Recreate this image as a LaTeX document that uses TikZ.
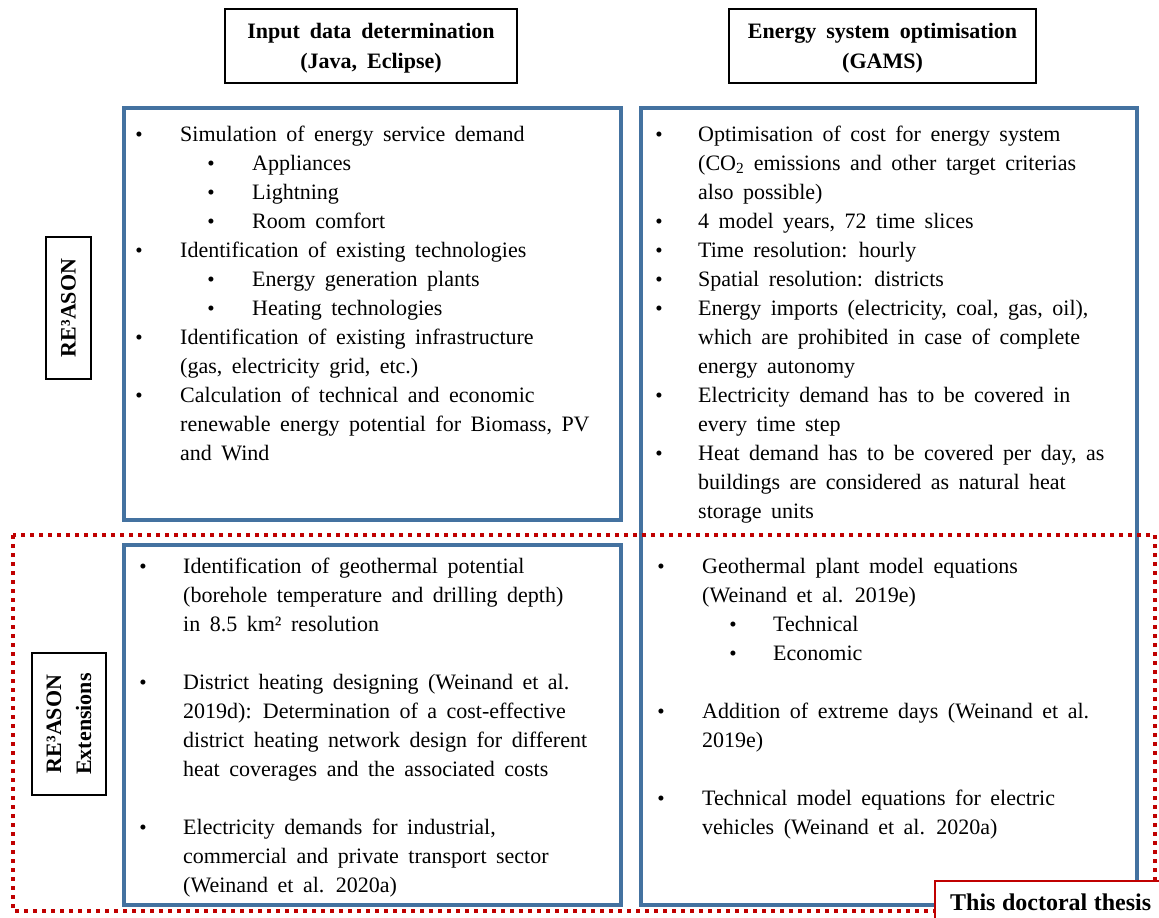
\documentclass[tikz,border=0pt]{standalone}
\usepackage{fontspec}
\setmainfont{Liberation Serif}
\definecolor{frameblue}{RGB}{68,114,160}
\definecolor{thesisred}{RGB}{192,0,0}
\begin{document}
\begin{tikzpicture}[x=1pt,y=-1pt,
  body/.style={anchor=base west,inner sep=0pt,
    font={\fontsize{22}{29}\selectfont\spaceskip=9.5pt\relax}},
  dotmark/.style={anchor=base,inner sep=0pt,font=\fontsize{21}{29}\selectfont},
  hdr/.style={draw=black,line width=2.6pt,align=center,inner sep=0pt,
    font={\fontsize{22}{30}\selectfont\bfseries\spaceskip=10pt\relax}},
  sidelabel/.style={draw=black,line width=2.6pt,align=center,inner sep=0pt,rotate=90,
    font=\fontsize{22}{30}\selectfont\bfseries},
  panel/.style={draw=frameblue,line width=4pt},
  extframe/.style={draw=thesisred,line width=4pt,dash pattern=on 4pt off 5pt}]

\useasboundingbox (0,0) rectangle (1159,918);
\clip (0,0) rectangle (1159,918);

% column headers
\node[hdr,minimum width=292pt,minimum height=74pt] (hin) at (371,46)
  {\rule{0pt}{20pt}Input data determination\\(Java, Eclipse)};
\node[hdr,minimum width=307pt,minimum height=74pt] (hopt) at (882.5,46)
  {\rule{0pt}{20pt}Energy system optimisation\\(GAMS)};

% blue panels
\draw[panel] (124,108) rectangle (621,520);
\draw[panel] (124,545) rectangle (621,905);
\draw[panel] (641,108) rectangle (1137,905);

% dotted frame around the extensions
\draw[extframe] (13,535) rectangle (1155,911);

% row labels
\node[sidelabel,minimum width=142pt,minimum height=45pt] (reason) at (68.5,308)
  {RE³ASON};
\node[sidelabel,minimum width=142pt,minimum height=74pt] (ext) at (69,724)
  {RE³ASON\\Extensions};

% thesis tag
\node[draw=thesisred,fill=white,line width=1.6pt,anchor=north west,
  minimum width=260pt,minimum height=60pt,inner sep=0pt] (thesis) at (934,880) {};
\node[anchor=base west,inner sep=0pt,
  font={\fontsize{24}{28}\selectfont\bfseries\spaceskip=6.5pt\relax}]
  (thesistext) at (950,910) {This doctoral thesis};

% input data, RE3ASON
\foreach \x/\k/\t [count=\i] in {
  180/0/{Simulation of energy service demand},
  252/1/{Appliances},
  252/2/{Lightning},
  252/3/{Room comfort},
  180/4/{Identification of existing technologies},
  252/5/{Energy generation plants},
  252/6/{Heating technologies},
  180/7/{Identification of existing infrastructure},
  180/8/{(gas, electricity grid, etc.)},
  180/9/{Calculation of technical and economic},
  180/10/{renewable energy potential for Biomass, PV},
  180/11/{and Wind}}
  \node[body] (tl\i) at (\x,{141+29*\k}) {\t};
\foreach \x/\k [count=\i] in {139/0,211/1,211/2,211/3,139/4,211/5,211/6,139/7,139/9}
  \node[dotmark] (tlb\i) at (\x,{141+29*\k}) {\textbullet};

% optimisation, RE3ASON
\foreach \k/\t [count=\i] in {
  0/{Optimisation of cost for energy system},
  1/{(CO\textsubscript{2} emissions and other target criterias},
  2/{also possible)},
  3/{4 model years, 72 time slices},
  4/{Time resolution: hourly},
  5/{Spatial resolution: districts},
  6/{Energy imports (electricity, coal, gas, oil),},
  7/{which are prohibited in case of complete},
  8/{energy autonomy},
  9/{Electricity demand has to be covered in},
  10/{every time step},
  11/{Heat demand has to be covered per day, as},
  12/{buildings are considered as natural heat},
  13/{storage units}}
  \node[body] (tr\i) at (698,{141+29*\k}) {\t};
\foreach \k [count=\i] in {0,3,4,5,6,9,11}
  \node[dotmark] (trb\i) at (659,{141+29*\k}) {\textbullet};

% input data, extensions
\foreach \k/\t [count=\i] in {
  0/{Identification of geothermal potential},
  1/{(borehole temperature and drilling depth)},
  2/{in 8.5 km² resolution},
  4/{District heating designing (Weinand et al.},
  5/{2019d): Determination of a cost-effective},
  6/{district heating network design for different},
  7/{heat coverages and the associated costs},
  9/{Electricity demands for industrial,},
  10/{commercial and private transport sector},
  11/{(Weinand et al. 2020a)}}
  \node[body] (bl\i) at (183,{573+29*\k}) {\t};
\foreach \k [count=\i] in {0,4,9}
  \node[dotmark] (blb\i) at (143,{573+29*\k}) {\textbullet};

% optimisation, extensions
\foreach \x/\k/\t [count=\i] in {
  702/0/{Geothermal plant model equations},
  702/1/{(Weinand et al. 2019e)},
  773/2/{Technical},
  773/3/{Economic},
  702/5/{Addition of extreme days (Weinand et al.},
  702/6/{2019e)},
  702/8/{Technical model equations for electric},
  702/9/{vehicles (Weinand et al. 2020a)}}
  \node[body] (br\i) at (\x,{573+29*\k}) {\t};
\foreach \x/\k [count=\i] in {661/0,733/2,733/3,661/5,661/8}
  \node[dotmark] (brb\i) at (\x,{573+29*\k}) {\textbullet};
\end{tikzpicture}
\end{document}
